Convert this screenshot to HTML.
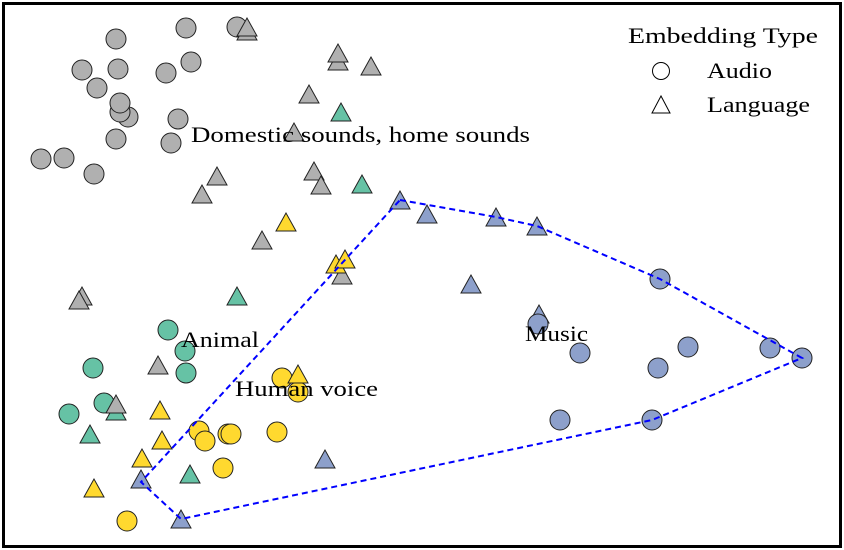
<!DOCTYPE html>
<html><head><meta charset="utf-8"><style>
html,body{margin:0;padding:0;background:#fff}
svg{display:block}
text{font-family:"Liberation Serif",serif;fill:#000}
</style></head><body>
<svg width="844" height="550" viewBox="0 0 844 550" xmlns="http://www.w3.org/2000/svg">
<defs>
<symbol id="t" overflow="visible"><polygon points="0,-11 -10,7 10,7" stroke="#222" stroke-width="1"/></symbol>
</defs>
<rect x="3.5" y="3.5" width="837" height="543" fill="#fff" stroke="#000" stroke-width="3"/>
<g stroke="#222" stroke-width="1" fill="#b0b0b0">
<circle cx="186" cy="28" r="10"/><circle cx="237" cy="27" r="10"/><circle cx="116" cy="39" r="10"/>
<circle cx="82" cy="70" r="10"/><circle cx="118" cy="69" r="10"/><circle cx="166" cy="73" r="10"/>
<circle cx="191" cy="62" r="10"/><circle cx="97" cy="88" r="10"/><circle cx="128" cy="117" r="10"/>
<circle cx="120" cy="112" r="10"/><circle cx="120" cy="103" r="10"/><circle cx="178" cy="119" r="10"/>
<circle cx="116" cy="139" r="10"/><circle cx="171" cy="143" r="10"/><circle cx="41" cy="159" r="10"/>
<circle cx="64" cy="158" r="10"/><circle cx="94" cy="174" r="10"/>
</g>
<g fill="#b0b0b0">
<use href="#t" x="247" y="33"/><use href="#t" x="247" y="29"/>
<use href="#t" x="338" y="63"/><use href="#t" x="338" y="55"/><use href="#t" x="371" y="68"/>
<use href="#t" x="309" y="96"/><use href="#t" x="294" y="134"/><use href="#t" x="314" y="173"/>
<use href="#t" x="321" y="187"/><use href="#t" x="217" y="178"/><use href="#t" x="202" y="196"/>
<use href="#t" x="262" y="242"/><use href="#t" x="342" y="277"/><use href="#t" x="82" y="298"/>
<use href="#t" x="79" y="302"/><use href="#t" x="158" y="367"/>
</g>
<g fill="#66c2a5">
<use href="#t" x="341" y="114"/><use href="#t" x="362" y="186"/><use href="#t" x="237" y="298"/>
<use href="#t" x="90" y="436"/><use href="#t" x="190" y="476"/><use href="#t" x="116" y="413"/>
</g>
<g stroke="#222" stroke-width="1" fill="#66c2a5">
<circle cx="168" cy="330" r="10"/><circle cx="185" cy="351" r="10"/><circle cx="186" cy="373" r="10"/>
<circle cx="93" cy="368" r="10"/><circle cx="104" cy="403" r="10"/><circle cx="69" cy="414" r="10"/>
</g>
<g fill="#b0b0b0"><use href="#t" x="116" y="406"/></g>
<g stroke="#222" stroke-width="1" fill="#ffd92f">
<circle cx="282" cy="378" r="10"/><circle cx="298" cy="392" r="10"/><circle cx="199" cy="431" r="10"/>
<circle cx="205" cy="441" r="10"/><circle cx="228" cy="434" r="10"/><circle cx="231" cy="434" r="10"/>
<circle cx="277" cy="432" r="10"/><circle cx="223" cy="468" r="10"/><circle cx="127" cy="521" r="10"/>
</g>
<g fill="#ffd92f">
<use href="#t" x="286" y="224"/><use href="#t" x="336" y="266"/><use href="#t" x="345" y="261"/>
<use href="#t" x="298" y="376"/><use href="#t" x="160" y="412"/><use href="#t" x="162" y="442"/>
<use href="#t" x="142" y="460"/><use href="#t" x="94" y="490"/>
</g>
<g fill="#8da0cb">
<use href="#t" x="400" y="202"/><use href="#t" x="427" y="216"/><use href="#t" x="496" y="219"/>
<use href="#t" x="537" y="228"/><use href="#t" x="471" y="286"/><use href="#t" x="539" y="316"/>
<use href="#t" x="325" y="461"/><use href="#t" x="141" y="481"/><use href="#t" x="181" y="521"/>
</g>
<g stroke="#222" stroke-width="1" fill="#8da0cb">
<circle cx="538" cy="324" r="10"/><circle cx="580" cy="353" r="10"/><circle cx="660" cy="279" r="10"/>
<circle cx="688" cy="347" r="10"/><circle cx="658" cy="368" r="10"/><circle cx="770" cy="348" r="10"/>
<circle cx="802" cy="358" r="10"/><circle cx="560" cy="420" r="10"/><circle cx="652" cy="420" r="10"/>
</g>
<polygon points="400,200 496,217 537,226 660,279 802,358 652,420 181,519 141,482" fill="none" stroke="#0000ff" stroke-width="2" stroke-dasharray="6,4"/>
<g font-size="22">
<text x="191" y="142" textLength="339" lengthAdjust="spacingAndGlyphs">Domestic sounds, home sounds</text>
<text x="181" y="347" textLength="78" lengthAdjust="spacingAndGlyphs">Animal</text>
<text x="235" y="396" textLength="143" lengthAdjust="spacingAndGlyphs">Human voice</text>
<text x="525" y="341" textLength="63" lengthAdjust="spacingAndGlyphs">Music</text>
<text x="628" y="43" textLength="190" lengthAdjust="spacingAndGlyphs">Embedding Type</text>
<text x="707" y="78" textLength="65" lengthAdjust="spacingAndGlyphs">Audio</text>
<text x="707" y="112" textLength="103" lengthAdjust="spacingAndGlyphs">Language</text>
</g>
<circle cx="661" cy="71" r="8.5" fill="#fff" stroke="#000" stroke-width="1"/>
<polygon points="661,96 652,113 670,113" fill="#fff" stroke="#000" stroke-width="1"/>
</svg>
</body></html>
